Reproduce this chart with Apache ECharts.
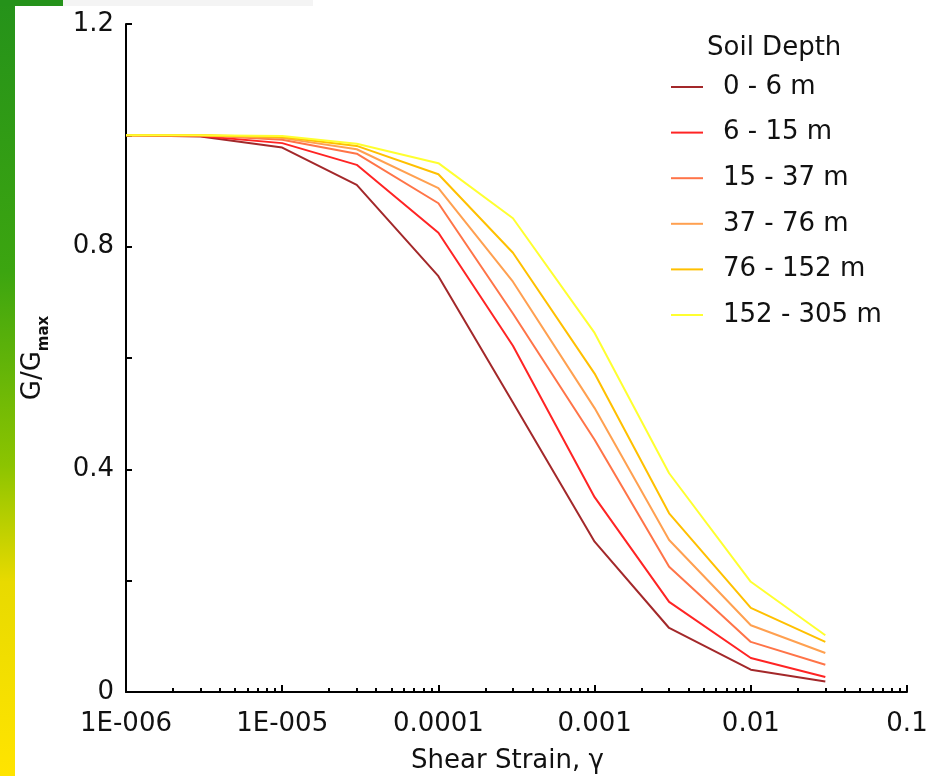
<!DOCTYPE html>
<html>
<head>
<meta charset="utf-8">
<script src="https://cdn.jsdelivr.net/npm/echarts@6/dist/echarts.min.js"></script>
<style>
html,body{margin:0;padding:0;background:#fff;}
#chart{width:927px;height:776px;}
</style>
</head>
<body>
<div id="chart"></div>
<script>
// Shear strain values (x)
var strain = [1e-6, 3e-6, 1e-5, 3e-5, 1e-4, 3e-4, 1e-3, 3e-3, 1e-2, 3e-2];
// G/Gmax per soil depth
var depth_0_6     = [1.0, 0.998, 0.978, 0.911, 0.747, 0.520, 0.270, 0.115, 0.040, 0.019];
var depth_6_15    = [1.0, 0.999, 0.986, 0.947, 0.825, 0.622, 0.350, 0.162, 0.061, 0.027];
var depth_15_37   = [1.0, 1.000, 0.992, 0.967, 0.878, 0.680, 0.453, 0.225, 0.090, 0.049];
var depth_37_76   = [1.0, 1.000, 0.995, 0.975, 0.905, 0.737, 0.510, 0.273, 0.120, 0.070];
var depth_76_152  = [1.0, 1.000, 0.997, 0.981, 0.930, 0.789, 0.572, 0.321, 0.151, 0.090];
var depth_152_305 = [1.0, 1.000, 0.999, 0.985, 0.950, 0.851, 0.645, 0.393, 0.198, 0.102];
var seriesNames = ['0 - 6 m', '6 - 15 m', '15 - 37 m', '37 - 76 m', '76 - 152 m', '152 - 305 m'];
// Axis tick labels
var xTickValues = [1e-6, 1e-5, 1e-4, 1e-3, 1e-2, 1e-1];
var xTickLabels = ['1E-006', '1E-005', '0.0001', '0.001', '0.01', '0.1'];
var xMinorMultipliers = [2, 3, 4, 5, 6, 7, 8, 9];
var yTickValues = [0, 0.4, 0.8, 1.2];
var yTickLabels = ['0', '0.4', '0.8', '1.2'];

var colors = ['#a3282a', '#ff2424', '#ff7448', '#ffa050', '#ffc000', '#ffff30'];
var allSeries = [depth_0_6, depth_6_15, depth_15_37, depth_37_76, depth_76_152, depth_152_305];

var minorTicks = [];
xTickValues.slice(0, -1).forEach(function (d) {
  xMinorMultipliers.forEach(function (m) { minorTicks.push(d * m); });
});

var FONT = 'DejaVu Sans';
var chart = echarts.init(document.getElementById('chart'), null, {renderer: 'canvas'});

var series = allSeries.map(function (vals, i) {
  return {
    name: seriesNames[i],
    type: 'line',
    xAxisIndex: 0,
    symbol: 'none',
    smooth: false,
    lineStyle: {color: colors[i], width: 2},
    itemStyle: {color: colors[i]},
    data: strain.map(function (x, j) { return [x, vals[j]]; }),
    z: 2 + i
  };
});

function lookup(values, labels, v) {
  for (var i = 0; i < values.length; i++) {
    if (Math.abs(values[i] - v) < 1e-9 * Math.max(1, Math.abs(v)) + 1e-12) return labels[i];
  }
  return '';
}
function lookupLog(values, labels, v) {
  for (var i = 0; i < values.length; i++) {
    if (Math.abs(Math.log10(values[i]) - Math.log10(v)) < 1e-6) return labels[i];
  }
  return '';
}

var option = {
  animation: false,
  backgroundColor: '#ffffff',
  grid: {left: 126, right: 20, top: 24, bottom: 84, containLabel: false, outerBoundsMode: 'none'},
  title: {
    text: 'Soil Depth',
    left: 702, top: 30,
    textStyle: {fontFamily: FONT, fontSize: 26, fontWeight: 'normal', color: '#111'}
  },
  legend: {
    orient: 'vertical',
    left: 666, top: 69,
    itemWidth: 32, itemHeight: 14,
    itemGap: 19.6,
    icon: 'path://M0,0 L32,0 L32,2 L0,2 Z',
    data: seriesNames.map(function (n, i) {
      return {name: n, itemStyle: {color: colors[i]}};
    }),
    textStyle: {fontFamily: FONT, fontSize: 26, color: '#111', padding: [0, 0, 0, 15]}
  },
  xAxis: [{
    type: 'log',
    logBase: 10,
    min: 1e-6, max: 0.1,
    position: 'bottom',
    name: 'Shear Strain, \u03b3',
    nameLocation: 'middle',
    nameGap: 56,
    nameTextStyle: {fontFamily: FONT, fontSize: 26, color: '#111', padding: [0, 18, 0, 0]},
    axisLine: {show: true, lineStyle: {color: '#000', width: 2}},
    axisTick: {show: true, inside: true, length: 7, lineStyle: {color: '#000', width: 2}},
    axisLabel: {
      fontFamily: FONT, fontSize: 26, color: '#111', margin: 19,
      formatter: function (v) { return lookupLog(xTickValues, xTickLabels, v); }
    },
    splitLine: {show: false},
    minorTick: {show: false}
  }, {
    type: 'log',
    logBase: 10,
    min: 1e-6, max: 0.1,
    position: 'bottom',
    offset: 0,
    axisLine: {show: false},
    axisTick: {show: true, inside: true, length: 4, customValues: minorTicks, lineStyle: {color: '#000', width: 2}},
    axisLabel: {show: false},
    splitLine: {show: false}
  }],
  yAxis: {
    type: 'value',
    min: 0, max: 1.2, interval: 0.2,
    name: '{a|G/G}{b|max}',
    nameLocation: 'middle',
    nameRotate: 90,
    nameGap: 80,
    nameTextStyle: {
      fontFamily: FONT, color: '#111',
      rich: {
        a: {fontFamily: FONT, fontSize: 26, color: '#111', verticalAlign: 'bottom', lineHeight: 30},
        b: {fontFamily: FONT, fontSize: 15, fontWeight: 'bold', color: '#111', verticalAlign: 'bottom', lineHeight: 22, padding: [0, 0, -6, 0]}
      }
    },
    axisLine: {show: true, lineStyle: {color: '#000', width: 2}},
    axisTick: {show: true, inside: true, length: 6, lineStyle: {color: '#000', width: 2}},
    axisLabel: {
      fontFamily: FONT, fontSize: 26, color: '#111', margin: 12,
      formatter: function (v) { return lookup(yTickValues, yTickLabels, v); }
    },
    splitLine: {show: false}
  },
  graphic: [
    {
      type: 'rect', left: 0, top: 0, z: 100,
      shape: {x: 0, y: 0, width: 15, height: 776},
      style: {
        fill: {
          type: 'linear', x: 0, y: 0, x2: 0, y2: 1,
          colorStops: [
            {offset: 0, color: '#25921a'},
            {offset: 0.35, color: '#3ca510'},
            {offset: 0.6, color: '#8cc400'},
            {offset: 0.75, color: '#e8da00'},
            {offset: 1, color: '#ffe400'}
          ]
        }
      }
    },
    {
      type: 'rect', left: 0, top: 0, z: 100,
      shape: {x: 0, y: 0, width: 63, height: 6},
      style: {fill: '#25921a'}
    },
    {
      type: 'rect', left: 63, top: 0, z: 100,
      shape: {x: 0, y: 0, width: 250, height: 6},
      style: {fill: '#f4f4f4'}
    }
  ],
  series: series
};
chart.setOption(option);
</script>
</body>
</html>
